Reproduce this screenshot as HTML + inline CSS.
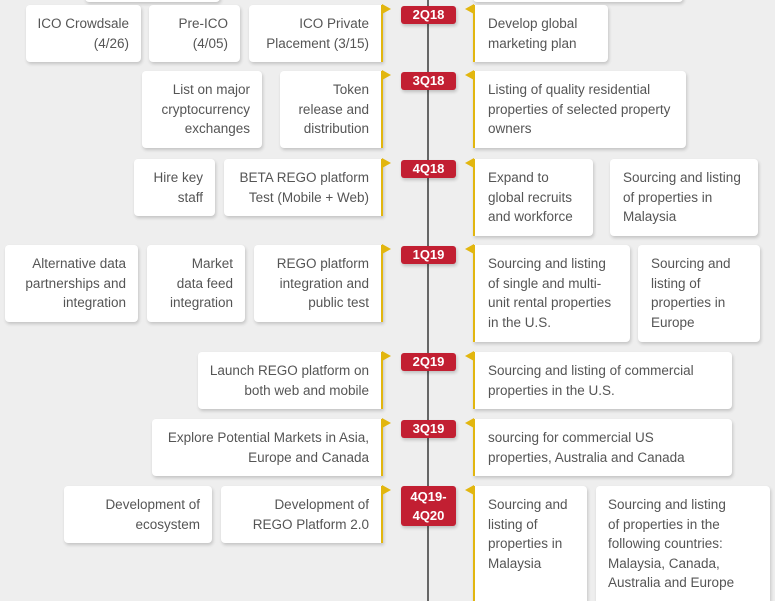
<!DOCTYPE html>
<html style="overflow:hidden;width:775px;height:601px"><head><meta charset="utf-8"><style>
*{margin:0;padding:0;box-sizing:border-box}
body{width:775px;height:601px;overflow:hidden;background:#eeeeee;position:relative;font-family:"Liberation Sans",sans-serif;}
.line{position:absolute;left:427px;top:0;width:2px;height:601px;background:#666}
.c{position:absolute;background:#fff;border-radius:4px;box-shadow:1px 2px 3px rgba(0,0,0,.18);color:#555;font-size:13.5px;line-height:19.6px;padding-top:9px}
.l{text-align:right;padding-right:12px}
.r{text-align:left;padding-left:13px}
.yl{border-right:2px solid #e2b60f;border-radius:4px 0 0 4px}
.yr{border-left:2px solid #e2b60f;border-radius:0 4px 4px 0}
.yl:after{content:"";position:absolute;right:-10px;top:-1px;border-left:9px solid #e2b60f;border-top:5px solid transparent;border-bottom:5px solid transparent}
.yr:after{content:"";position:absolute;left:-10px;top:-1px;border-right:9px solid #e2b60f;border-top:5px solid transparent;border-bottom:5px solid transparent}
.b{position:absolute;left:401px;width:55px;background:#c21f32;color:#fff;font-weight:bold;font-size:13px;text-align:center;border-radius:3px;line-height:18px;box-shadow:1px 2px 3px rgba(0,0,0,.2)}
</style></head><body>
<div class="line"></div>
<div class="c" style="left:85px;top:-20px;width:135px;height:22px"></div>
<div class="c" style="left:473px;top:-20px;width:210px;height:22px"></div>

<div class="c l" style="left:26px;top:5px;width:115px;height:57px">ICO Crowdsale<br>(4/26)</div>
<div class="c l" style="left:149px;top:5px;width:91px;height:57px">Pre-ICO<br>(4/05)</div>
<div class="c l yl" style="left:249px;top:5px;width:134px;height:57px">ICO Private<br>Placement (3/15)</div>
<div class="b" style="top:6px">2Q18</div>
<div class="c r yr" style="left:473px;top:5px;width:135px;height:57px">Develop global<br>marketing plan</div>

<div class="c l" style="left:142px;top:71px;width:120px;height:77px">List on major<br>cryptocurrency<br>exchanges</div>
<div class="c l yl" style="left:280px;top:71px;width:103px;height:77px">Token<br>release and<br>distribution</div>
<div class="b" style="top:72px">3Q18</div>
<div class="c r yr" style="left:473px;top:71px;width:213px;height:77px">Listing of quality residential<br>properties of selected property<br>owners</div>

<div class="c l" style="left:134px;top:159px;width:81px;height:57px">Hire key<br>staff</div>
<div class="c l yl" style="left:224px;top:159px;width:159px;height:57px">BETA REGO platform<br>Test (Mobile + Web)</div>
<div class="b" style="top:160px">4Q18</div>
<div class="c r yr" style="left:473px;top:159px;width:120px;height:77px">Expand to<br>global recruits<br>and workforce</div>
<div class="c r" style="left:610px;top:159px;width:148px;height:77px">Sourcing and listing<br>of properties in<br>Malaysia</div>

<div class="c l" style="left:5px;top:245px;width:133px;height:77px">Alternative data<br>partnerships and<br>integration</div>
<div class="c l" style="left:147px;top:245px;width:98px;height:77px">Market<br>data feed<br>integration</div>
<div class="c l yl" style="left:254px;top:245px;width:129px;height:77px">REGO platform<br>integration and<br>public test</div>
<div class="b" style="top:246px">1Q19</div>
<div class="c r yr" style="left:473px;top:245px;width:157px;height:97px">Sourcing and listing<br>of single and multi-<br>unit rental properties<br>in the U.S.</div>
<div class="c r" style="left:638px;top:245px;width:122px;height:97px">Sourcing and<br>listing of<br>properties in<br>Europe</div>

<div class="c l yl" style="left:198px;top:352px;width:185px;height:57px">Launch REGO platform on<br>both web and mobile</div>
<div class="b" style="top:353px">2Q19</div>
<div class="c r yr" style="left:473px;top:352px;width:259px;height:57px">Sourcing and listing of commercial<br>properties in the U.S.</div>

<div class="c l yl" style="left:152px;top:419px;width:231px;height:57px">Explore Potential Markets in Asia,<br>Europe and Canada</div>
<div class="b" style="top:420px">3Q19</div>
<div class="c r yr" style="left:473px;top:419px;width:259px;height:57px">sourcing for commercial US<br>properties, Australia and Canada</div>

<div class="c l" style="left:64px;top:486px;width:148px;height:57px">Development of<br>ecosystem</div>
<div class="c l yl" style="left:221px;top:486px;width:162px;height:57px">Development of<br>REGO Platform 2.0</div>
<div class="b" style="top:486px;line-height:19px;padding:1px 0">4Q19-<br>4Q20</div>
<div class="c r yr" style="left:473px;top:486px;width:114px;height:115px;border-bottom-right-radius:0">Sourcing and<br>listing of<br>properties in<br>Malaysia</div>
<div class="c r" style="left:596px;top:486px;width:174px;height:115px;padding-left:12px;border-bottom-right-radius:0;border-bottom-left-radius:0">Sourcing and listing<br>of properties in the<br>following countries:<br>Malaysia, Canada,<br>Australia and Europe</div>
</body></html>
